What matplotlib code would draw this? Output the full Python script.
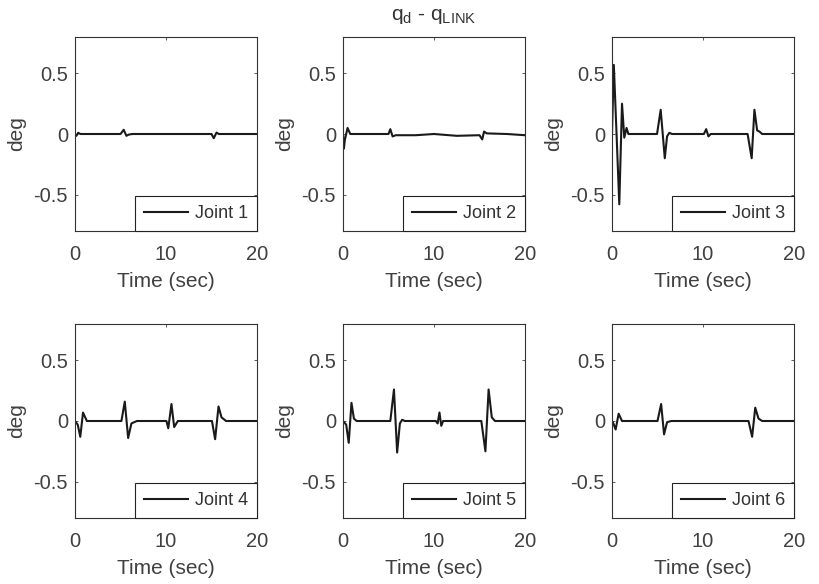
import matplotlib
matplotlib.use("Agg")
import matplotlib.pyplot as plt

plt.rcParams['font.family'] = ['Liberation Sans', 'DejaVu Sans']
plt.rcParams['mathtext.fontset'] = 'custom'
plt.rcParams['mathtext.rm'] = 'Liberation Sans'

# Erro de seguimento por junta
joint1_t = [0, 0.15, 0.35, 0.6, 5.0, 5.35, 5.65, 5.9, 6.3, 15.0, 15.25, 15.55, 15.8, 20]
joint1_q = [0, -0.015, 0.01, 0, 0, 0.035, -0.015, -0.005, 0, 0, -0.035, 0.012, 0, 0]

joint2_t = [0, 0.1, 0.2, 0.5, 0.8, 5.0, 5.2, 5.45, 5.8, 8, 10, 12.5, 15.0, 15.3, 15.5, 15.8, 18, 20]
joint2_q = [0, -0.12, -0.05, 0.05, 0.0, 0.0, 0.04, -0.02, -0.01, -0.01, 0.0, -0.015, -0.01, -0.045, 0.02, 0.005, 0.0, -0.01]

joint3_t = [0, 0.2, 0.5, 0.8, 1.1, 1.35, 1.6, 1.8, 2.1, 4.95, 5.35, 5.8, 6.05, 6.3, 6.6,
            10.1, 10.35, 10.6, 10.85, 14.9, 15.35, 15.65, 15.95, 16.2, 16.5, 20]
joint3_q = [0, 0.57, 0, -0.58, 0.25, -0.03, 0.05, 0.0, 0.0, 0.0, 0.2, -0.2, -0.02, 0.01, 0,
            0, 0.04, -0.02, 0, 0, -0.2, 0.2, 0.03, 0.02, 0, 0]

joint4_t = [0, 0.3, 0.58, 0.88, 1.3, 5.1, 5.47, 5.84, 6.2, 6.8, 10.05, 10.25, 10.6, 10.9, 11.3,
            15.05, 15.4, 15.77, 16.1, 16.6, 20]
joint4_q = [0, -0.03, -0.13, 0.07, 0, 0, 0.16, -0.14, -0.02, 0, 0, -0.06, 0.14, -0.05, 0,
            0, -0.15, 0.12, 0.03, 0, 0]

joint5_t = [0, 0.35, 0.63, 0.93, 1.2, 1.5, 5.2, 5.6, 5.95, 6.25, 6.5, 6.8, 10.2, 10.4, 10.6, 10.8, 11.0,
            15.2, 15.65, 16.0, 16.35, 16.7, 20]
joint5_q = [0, -0.03, -0.18, 0.15, 0.02, 0, 0, 0.26, -0.26, -0.02, 0.01, 0, 0, -0.02, 0.07, -0.04, 0,
            0, -0.25, 0.26, 0.03, 0, 0]

joint6_t = [0, 0.15, 0.4, 0.73, 1.1, 5.0, 5.4, 5.72, 6.05, 6.5, 15.0, 15.4, 15.74, 16.1, 16.5, 20]
joint6_q = [0, -0.02, -0.07, 0.06, 0, 0, 0.14, -0.11, -0.01, 0, 0, -0.13, 0.11, 0.02, 0, 0]

labels = ["Joint 1", "Joint 2", "Joint 3", "Joint 4", "Joint 5", "Joint 6"]
times = [joint1_t, joint2_t, joint3_t, joint4_t, joint5_t, joint6_t]
errors = [joint1_q, joint2_q, joint3_q, joint4_q, joint5_q, joint6_q]

cor_texto = '#404040'
W, H = 820, 584
lefts = [75, 343, 612]
tops = [37, 324]
aw, ah = 182, 194

fig = plt.figure(figsize=(8.2, 5.84), dpi=100)

for i in range(6):
    r, c = divmod(i, 3)
    ax = fig.add_axes([lefts[c] / W, (H - tops[r] - ah) / H, aw / W, ah / H])
    ax.plot(times[i], errors[i], color='#1a1a1a', linewidth=1.5, label=labels[i])
    ax.set_xlim(0, 20)
    ax.set_ylim(-0.8, 0.8)
    ax.set_xticks([0, 10, 20])
    ax.set_yticks([-0.5, 0, 0.5])
    ax.set_xticklabels(['0', '10', '20'])
    ax.set_yticklabels(['-0.5', '0', '0.5'])
    ax.tick_params(direction='in', top=True, right=True, length=2.5, width=0.6,
                   labelsize=14.5, colors='#404040', labelcolor=cor_texto)
    ax.tick_params(axis='x', pad=10)
    ax.tick_params(axis='y', pad=5)
    for s in ax.spines.values():
        s.set_color('#333333')
        s.set_linewidth(0.8)
    ax.set_xlabel("Time (sec)", fontsize=15, color=cor_texto, labelpad=6)
    ax.set_ylabel("deg", fontsize=15, color=cor_texto, labelpad=5)
    leg = ax.legend(loc='lower right', borderaxespad=0, fancybox=False, framealpha=1,
                    edgecolor='#222222', fontsize=13, handlelength=2.4, handletextpad=0.4,
                    borderpad=0.5)
    leg.get_frame().set_linewidth(0.8)
    for t in leg.get_texts():
        t.set_color('#333333')

fig.text(434 / W, 1 - 16 / H, r'q$_{\mathregular{d}}$ - q$_{\mathregular{LINK}}$',
         ha='center', va='center', fontsize=15, color='#333333')

fig.savefig("out.png", dpi=100)
